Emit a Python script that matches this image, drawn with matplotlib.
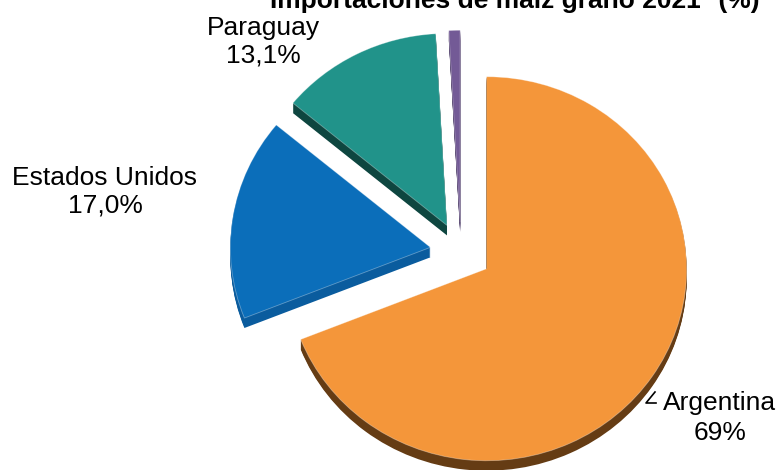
import matplotlib
matplotlib.use("Agg")
import matplotlib.pyplot as plt
from matplotlib.lines import Line2D

# ---- data ----
categories = ["Argentina", "Estados Unidos", "Paraguay", "Otros"]
shares = [69.0, 17.0, 13.1, 0.9]
label_texts = ["69%", "17,0%", "13,1%", None]
title = "Importaciones de maíz grano 2021* (%)"

# ---- style ----
top_colors = ["#F4963A", "#0B6EBA", "#21938A", "#735A96"]
side_colors = ["#653C14", "#0A5C9E", "#0E4640", "#4A3866"]
W, H = 781, 470
DPI = 100
FONT = "Liberation Sans"
FS = 19

fig = plt.figure(figsize=(W / DPI, H / DPI), dpi=DPI)
ax = fig.add_axes([0, 0, 1, 1])

explode = [0.155] * len(shares)
depth_steps = 10
step = 0.0052
for k in range(depth_steps, 0, -1):
    ax.pie(shares, explode=explode, colors=side_colors, startangle=90,
           counterclock=False, center=(0, -k * step),
           wedgeprops=dict(linewidth=0))
ax.pie(shares, explode=explode, colors=top_colors, startangle=90,
       counterclock=False, center=(0, 0),
       wedgeprops=dict(linewidth=0.6, edgecolor=(1, 1, 1, 0.35)))

# pixel mapping: center at (461, 252), x-unit 200 px, y-unit 192 px
cx, cy, rx, ry = 461, 252, 200, 192
ax.set_aspect("auto")
ax.set_xlim(-cx / rx, (W - cx) / rx)
ax.set_ylim(-(H - cy) / ry, cy / ry)
ax.axis("off")


def px(x, y):
    return x / W, 1 - y / H


# title (partly cut at the top, as in the reference)
fig.text(*px(515, 8), title, ha="center", va="baseline",
         fontsize=FS, fontweight="bold", family=FONT)

# labels: (name baseline, pct baseline, center x)
label_pos = {
    "Argentina": (720, 410, 440),
    "Estados Unidos": (105, 185, 212),
    "Paraguay": (263, 35, 63),
}
for name, pct in zip(categories, label_texts):
    if pct is None:
        continue
    x, y1, y2 = label_pos[name]
    fig.text(*px(x, y1), name, ha="center", va="baseline",
             fontsize=FS, family=FONT)
    fig.text(*px(x, y2), pct, ha="center", va="baseline",
             fontsize=FS, family=FONT)

# small leader line for Argentina
lx = [656, 646, 655]
ly = [403, 403, 392]
fig.add_artist(Line2D([a / W for a in lx], [1 - b / H for b in ly],
                      transform=fig.transFigure, color="black", lw=1.2))

fig.savefig("out.png", dpi=DPI)
